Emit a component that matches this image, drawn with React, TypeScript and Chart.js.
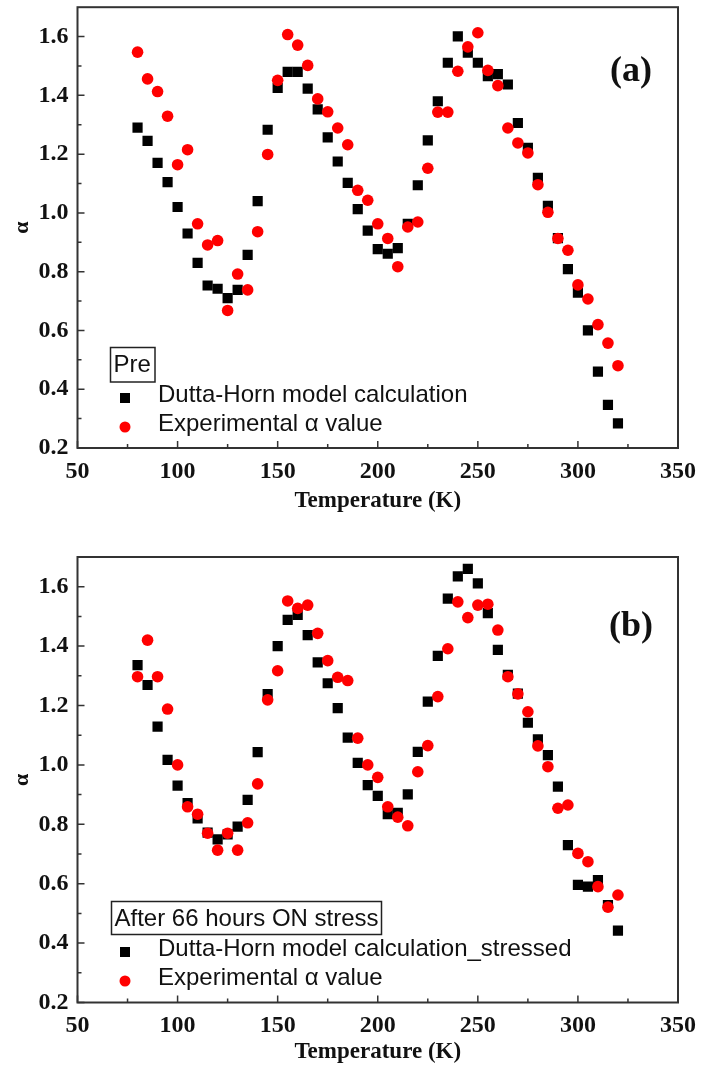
import React, { useEffect, useRef } from 'react';
import { Chart, registerables } from 'chart.js';

Chart.register(...registerables);

// ---------- data ----------
const TEMPERATURES = [
  80, 85, 90, 95, 100, 105, 110, 115, 120, 125, 130, 135, 140, 145, 150, 155, 160,
  165, 170, 175, 180, 185, 190, 195, 200, 205, 210, 215, 220, 225, 230, 235, 240,
  245, 250, 255, 260, 265, 270, 275, 280, 285, 290, 295, 300, 305, 310, 315, 320,
];

const PRE_MODEL = [
  1.29, 1.245, 1.17, 1.105, 1.02, 0.93, 0.83, 0.753, 0.742, 0.71, 0.738, 0.857, 1.04,
  1.283, 1.425, 1.48, 1.48, 1.423, 1.352, 1.257, 1.175, 1.102, 1.013, 0.94, 0.877,
  0.861, 0.88, 0.963, 1.094, 1.247, 1.38, 1.511, 1.601, 1.545, 1.511, 1.465, 1.472,
  1.437, 1.306, 1.221, 1.119, 1.024, 0.914, 0.809, 0.729, 0.6, 0.46, 0.347, 0.284,
];

const PRE_EXPERIMENT = [
  1.547, 1.456, 1.413, 1.329, 1.164, 1.215, 0.963, 0.891, 0.906, 0.668, 0.792, 0.738,
  0.936, 1.199, 1.451, 1.607, 1.571, 1.502, 1.388, 1.344, 1.289, 1.232, 1.077, 1.043,
  0.963, 0.913, 0.817, 0.952, 0.969, 1.152, 1.343, 1.343, 1.482, 1.565, 1.613, 1.485,
  1.433, 1.289, 1.238, 1.204, 1.096, 1.002, 0.913, 0.873, 0.755, 0.707, 0.62, 0.557, 0.48,
];

const STRESSED_MODEL = [
  1.336, 1.269, 1.129, 1.017, 0.93, 0.871, 0.82, 0.772, 0.749, 0.766, 0.792, 0.882,
  1.043, 1.238, 1.4, 1.488, 1.505, 1.437, 1.345, 1.275, 1.191, 1.092, 1.007, 0.932,
  0.896, 0.834, 0.839, 0.901, 1.044, 1.213, 1.367, 1.56, 1.635, 1.66, 1.611, 1.511,
  1.387, 1.303, 1.24, 1.142, 1.086, 1.033, 0.927, 0.73, 0.596, 0.59, 0.612, 0.528, 0.442,
];

const STRESSED_EXPERIMENT = [
  1.297, 1.42, 1.297, 1.188, 1.0, 0.859, 0.834, 0.77, 0.713, 0.77, 0.713, 0.805, 0.936,
  1.219, 1.317, 1.552, 1.527, 1.538, 1.443, 1.351, 1.295, 1.284, 1.09, 1.0, 0.958,
  0.859, 0.824, 0.795, 0.977, 1.065, 1.23, 1.391, 1.549, 1.496, 1.538, 1.541, 1.454,
  1.297, 1.239, 1.179, 1.064, 0.994, 0.854, 0.865, 0.702, 0.674, 0.59, 0.521, 0.562,
];

const X_MIN = 50;
const X_MAX = 350;
const X_STEP = 50;
const Y_MIN = 0.2;
const Y_MAX = 1.7;
const Y_STEP = 0.2;

const X_TITLE = 'Temperature (K)';
const Y_TITLE = 'α';
const MODEL_LABEL_A = 'Dutta-Horn model calculation';
const MODEL_LABEL_B = 'Dutta-Horn model calculation_stressed';
const EXP_LABEL = 'Experimental α value';

// ---------- styling ----------
const SERIF = '"Liberation Serif", "Times New Roman", serif';
const SANS = '"Liberation Sans", Arial, sans-serif';
const AXIS_COLOR = '#333333';

type PanelSpec = {
  height: number;
  padTop: number;
  xAxisHeight: number;
  xTitlePad: number;
  tag: string;
  tagY: number;
  boxTitle: string;
  box: [number, number, number, number];
  modelLabel: string;
  legendY1: number;
  legendY2: number;
  model: number[];
  experiment: number[];
};

const toPoints = (ys: number[]) => TEMPERATURES.map((t, i) => ({ x: t, y: ys[i] }));

const framePlugin = (spec: PanelSpec) => ({
  id: 'frameAndDecor',
  afterDraw(chart: any) {
    const { ctx, chartArea } = chart;
    const { left, right, top, bottom } = chartArea;
    const xs = chart.scales.x;
    const ys = chart.scales.y;
    ctx.save();
    // frame
    ctx.strokeStyle = AXIS_COLOR;
    ctx.lineWidth = 2;
    ctx.strokeRect(left, top, right - left, bottom - top);
    // inward ticks
    ctx.lineWidth = 1.5;
    ctx.beginPath();
    const xt = xs.ticks.map((t: any) => t.value);
    xt.forEach((v: number, i: number) => {
      const p = xs.getPixelForValue(v);
      ctx.moveTo(p, bottom);
      ctx.lineTo(p, bottom - 7);
      if (i < xt.length - 1) {
        const m = xs.getPixelForValue((v + xt[i + 1]) / 2);
        ctx.moveTo(m, bottom);
        ctx.lineTo(m, bottom - 4);
      }
    });
    const yt = ys.ticks.map((t: any) => t.value);
    yt.forEach((v: number, i: number) => {
      const p = ys.getPixelForValue(v);
      ctx.moveTo(left, p);
      ctx.lineTo(left + 7, p);
      const mv = i < yt.length - 1 ? (v + yt[i + 1]) / 2 : v + Y_STEP / 2;
      if (mv < Y_MAX) {
        const m = ys.getPixelForValue(mv);
        ctx.moveTo(left, m);
        ctx.lineTo(left + 4, m);
      }
    });
    ctx.stroke();

    // panel tag
    ctx.fillStyle = '#111';
    ctx.font = `bold 36px ${SERIF}`;
    ctx.textAlign = 'center';
    ctx.textBaseline = 'middle';
    ctx.fillText(spec.tag, 631, spec.tagY);

    // legend
    const [bx, by, bw, bh] = spec.box;
    ctx.lineWidth = 1.5;
    ctx.strokeStyle = '#222';
    ctx.strokeRect(bx, by, bw, bh);
    ctx.font = `24px ${SANS}`;
    ctx.textAlign = 'left';
    ctx.fillStyle = '#111';
    ctx.fillText(spec.boxTitle, bx + 3, by + bh / 2 + 1);
    ctx.fillText(spec.modelLabel, 158, spec.legendY1 - 3);
    ctx.fillText(EXP_LABEL, 158, spec.legendY2 - 3);
    ctx.fillStyle = '#000';
    ctx.fillRect(125 - 5, spec.legendY1 - 5, 10, 10);
    ctx.fillStyle = '#ff0000';
    ctx.beginPath();
    ctx.arc(125, spec.legendY2, 5.5, 0, Math.PI * 2);
    ctx.fill();
    ctx.restore();
  },
});

function buildConfig(spec: PanelSpec): any {
  return {
    type: 'scatter',
    data: {
      datasets: [
        {
          label: spec.modelLabel,
          data: toPoints(spec.model),
          pointStyle: 'rect',
          pointRadius: 7.2,
          pointHoverRadius: 7.2,
          backgroundColor: '#000000',
          borderWidth: 0,
          order: 1,
        },
        {
          label: EXP_LABEL,
          data: toPoints(spec.experiment),
          pointStyle: 'circle',
          pointRadius: 5.8,
          pointHoverRadius: 5.8,
          backgroundColor: '#ff0000',
          borderWidth: 0,
          order: 0,
        },
      ],
    },
    options: {
      animation: false,
      responsive: false,
      maintainAspectRatio: false,
      layout: { padding: { left: 0, right: 23, top: spec.padTop, bottom: 0 } },
      plugins: { legend: { display: false }, tooltip: { enabled: false } },
      scales: {
        x: {
          type: 'linear',
          min: X_MIN,
          max: X_MAX,
          grid: { display: false, drawTicks: false },
          border: { display: false },
          ticks: {
            stepSize: X_STEP,
            padding: 9,
            color: '#111',
            font: { family: SERIF, size: 24, weight: 'bold' },
            maxRotation: 0,
          },
          title: {
            display: true,
            text: X_TITLE,
            color: '#111',
            font: { family: SERIF, size: 23, weight: 'bold' },
            padding: { top: 0, bottom: spec.xTitlePad },
          },
          afterFit(scale: any) {
            scale.height = spec.xAxisHeight;
            scale.paddingLeft = 0;
            scale.paddingRight = 0;
          },
        },
        y: {
          type: 'linear',
          min: Y_MIN,
          max: Y_MAX,
          grid: { display: false, drawTicks: false },
          border: { display: false },
          ticks: {
            stepSize: Y_STEP,
            includeBounds: false,
            padding: 9,
            color: '#111',
            font: { family: SERIF, size: 24, weight: 'bold' },
            callback: (v: number) => Number(v).toFixed(1),
          },
          title: {
            display: true,
            text: Y_TITLE,
            color: '#111',
            font: { family: SERIF, size: 22, weight: 'bold' },
            padding: { top: 9, bottom: 0 },
          },
          afterFit(scale: any) {
            scale.width = 77.5;
            scale.paddingTop = 0;
            scale.paddingBottom = 0;
          },
        },
      },
    },
    plugins: [framePlugin(spec)],
  };
}

const PANEL_A: PanelSpec = {
  height: 530,
  padTop: 5,
  xAxisHeight: 82,
  xTitlePad: 15.5,
  tag: '(a)',
  tagY: 72,
  boxTitle: 'Pre',
  box: [110.5, 347.5, 44.5, 34.5],
  modelLabel: MODEL_LABEL_A,
  legendY1: 398,
  legendY2: 427,
  model: PRE_MODEL,
  experiment: PRE_EXPERIMENT,
};

const PANEL_B: PanelSpec = {
  height: 540,
  padTop: 27,
  xAxisHeight: 67.5,
  xTitlePad: 4.2,
  tag: '(b)',
  tagY: 97,
  boxTitle: 'After 66 hours ON stress',
  box: [111.5, 371.5, 270, 33],
  modelLabel: MODEL_LABEL_B,
  legendY1: 422,
  legendY2: 451,
  model: STRESSED_MODEL,
  experiment: STRESSED_EXPERIMENT,
};

function Panel({ spec, top }: { spec: PanelSpec; top: number }) {
  const ref = useRef<HTMLCanvasElement | null>(null);
  useEffect(() => {
    if (!ref.current) return;
    const chart = new Chart(ref.current, buildConfig(spec));
    return () => chart.destroy();
  }, [spec]);
  return (
    <canvas
      ref={ref}
      width={701}
      height={spec.height}
      style={{ position: 'absolute', left: 0, top, width: 701, height: spec.height, display: 'block' }}
    />
  );
}

export default function App() {
  return (
    <div style={{ position: 'absolute', left: 0, top: 0, width: 701, height: 1070, background: '#fff', overflow: 'hidden' }}>
      <Panel spec={PANEL_A} top={0} />
      <Panel spec={PANEL_B} top={530} />
    </div>
  );
}
